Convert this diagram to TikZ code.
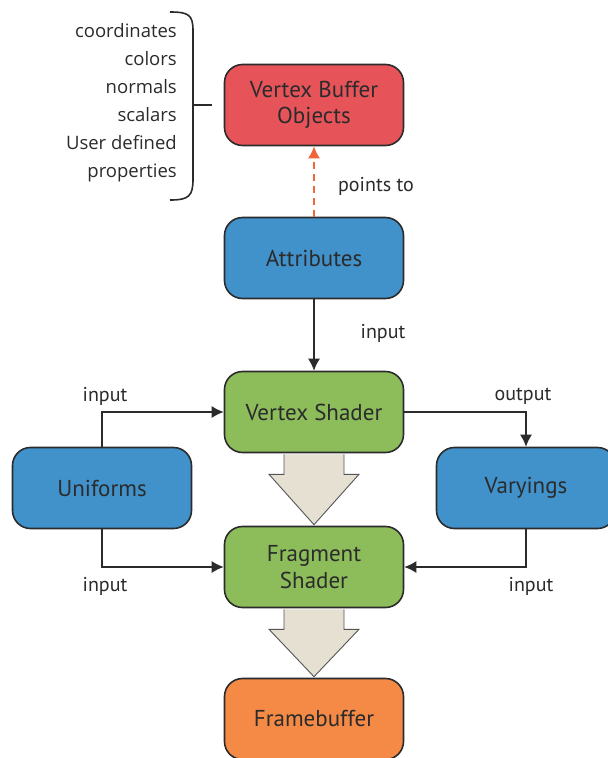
\documentclass[tikz,border=0pt]{standalone}
\usepackage{fontspec}
\setmainfont{PT Sans}
\newfontfamily\listfont{Open Sans}
\usepackage{tikz}
\usetikzlibrary{arrows.meta,calc}
\tikzset{>=latex}
\definecolor{vboRed}{HTML}{E6545A}
\definecolor{attrBlue}{HTML}{4191CB}
\definecolor{shaderGreen}{HTML}{8DBD5B}
\definecolor{fbufOrange}{HTML}{F58A46}
\definecolor{flowBeige}{HTML}{E5E0D2}
\definecolor{inkGray}{HTML}{2B2B2B}
\definecolor{dashOrange}{HTML}{F2643A}
\tikzset{
  stagebox/.style={draw=inkGray,line width=1.6pt,rounded corners=18pt,
    minimum width=179pt,minimum height=81pt,align=center,
    text=inkGray,font=\fontsize{23}{26.5}\selectfont},
  conn/.style={draw=inkGray,line width=1.3pt,-{Latex[length=12pt,width=12pt]}},
  dashconn/.style={draw=dashOrange,line width=1.6pt,dash pattern=on 7pt off 5pt,
    -{Latex[length=12pt,width=12pt]}},
  flowarrow/.style={fill=flowBeige,draw=inkGray!80,line width=0.9pt,line join=miter},
  lbl/.style={text=inkGray,font=\fontsize{20}{23}\selectfont,inner sep=0pt}
}
\begin{document}
\begin{tikzpicture}[x=1pt,y=-1pt]
  \useasboundingbox[fill=white] (0,0) rectangle (608,758);

  % boxes
  \node[stagebox,fill=vboRed] (vbo) at (314,105) {Vertex Buffer\\Objects};
  \node[stagebox,fill=attrBlue] (attr) at (314,258) {Attributes};
  \node[stagebox,fill=shaderGreen] (vshader) at (314,412) {Vertex Shader};
  \node[stagebox,fill=attrBlue] (unif) at (102,488) {Uniforms};
  \node[stagebox,fill=attrBlue] (vary) at (526,488) {Varyings};
  \node[stagebox,fill=shaderGreen] (fshader) at (314,567) {Fragment\\Shader};
  \node[stagebox,fill=fbufOrange] (fbuf) at (314,719) {Framebuffer};

  % property list with brace
  \node[anchor=east,align=right,text=inkGray,inner sep=0pt,
    font=\listfont\fontsize{18.5}{28}\selectfont] (props) at (177,103)
    {coordinates\\colors\\normals\\scalars\\User defined\\properties};
  \draw[inkGray,line width=1.6pt] ($(props.east)+(-7,-91)$)
    .. controls ($(props.east)+(12,-91)$) and ($(props.east)+(16,-88)$) .. ($(props.east)+(16,-72)$)
    -- ($(props.east)+(16,76)$)
    .. controls ($(props.east)+(16,93)$) and ($(props.east)+(12,97)$) .. ($(props.east)+(-7,97)$);
  \draw[inkGray,line width=1.6pt] ($(props.east)+(16,2)$) -- ($(vbo.west)+(-12,0)$);

  % connectors
  \draw[dashconn] (attr) -- (vbo);
  \draw[conn] (attr) -- (vshader);
  \draw[conn] (unif.north) |- (vshader.west);
  \draw[conn] (unif.south) |- (fshader.west);
  \draw[conn] (vshader.east) -| (vary.north);
  \draw[conn] (vary.south) |- (fshader.east);

  % labels
  \node[lbl] (ptlbl) at (376,186) {points to};
  \node[lbl] (attrlbl) at (383,333) {input};
  \node[lbl] (uvlbl) at (105,396) {input};
  \node[lbl] (uflbl) at (105,586) {input};
  \node[lbl] (vvlbl) at (523,396) {output};
  \node[lbl] (vflbl) at (531,586) {input};

  % flow arrows
  \foreach \from/\to in {vshader/fshader,fshader/fbuf}{
    \draw[flowarrow] ($(\from.south)+(-30,1)$) -- ++(0,20) -- ++(-15,0)
      -- ($(\to.north)+(0,-1)$) -- ($(\from.south)+(45,21)$) -- ++(-15,0)
      -- ($(\from.south)+(30,1)$);
  }
\end{tikzpicture}
\end{document}
